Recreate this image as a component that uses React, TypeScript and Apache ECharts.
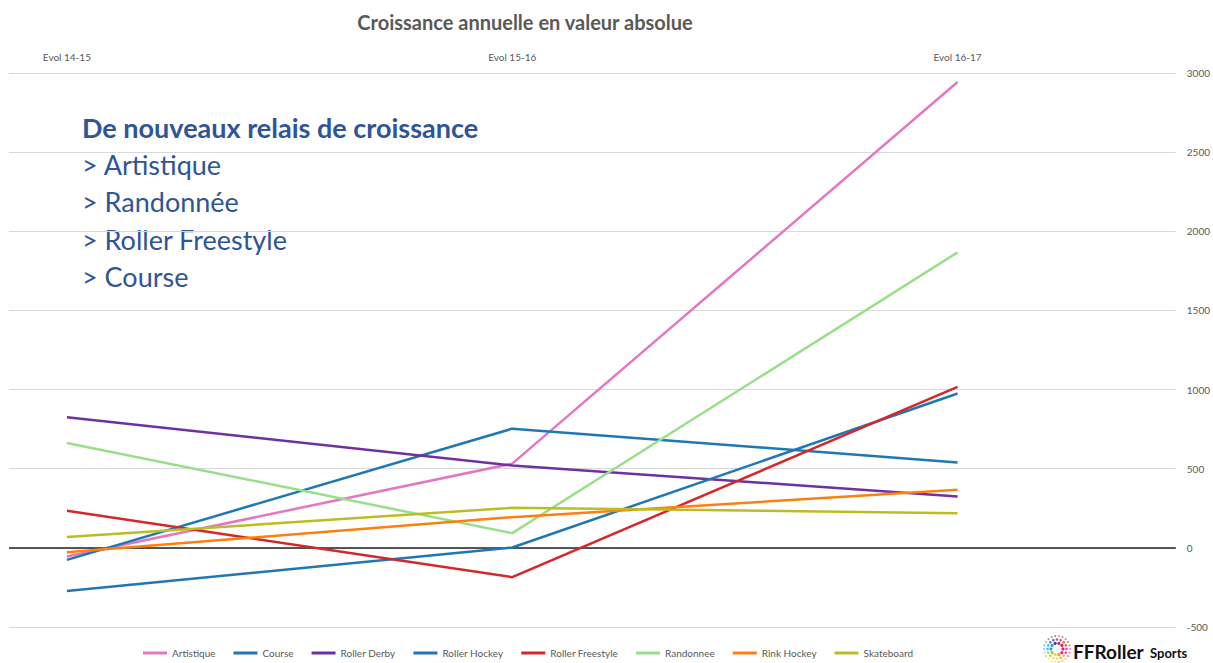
import React, { useEffect, useRef } from "react";
import * as echarts from "echarts";

const categories = ["Evol 14-15", "Evol 15-16", "Evol 16-17"];
const seriesNames = [
  "Artistique",
  "Course",
  "Roller Derby",
  "Roller Hockey",
  "Roller Freestyle",
  "Randonnee",
  "Rink Hockey",
  "Skateboard",
];
const artistique = [-55, 532, 2943];
const course = [-76, 753, 540];
const rollerDerby = [825, 521, 325];
const rollerHockey = [-272, 2, 975];
const rollerFreestyle = [234, -185, 1017];
const randonnee = [663, 93, 1867];
const rinkHockey = [-27, 194, 367];
const skateboard = [68, 253, 219];
const seriesValues = [artistique, course, rollerDerby, rollerHockey, rollerFreestyle, randonnee, rinkHockey, skateboard];
const seriesColors = ["#e377c2", "#1f77b4", "#7030a0", "#1f77b4", "#d62728", "#98df8a", "#ff7f0e", "#bcbd22"];
const yTicks = [-500, 0, 500, 1000, 1500, 2000, 2500, 3000];
const titleText = "Croissance annuelle en valeur absolue";
const noteLines = ["> Artistique", "> Randonnée", "> Roller Freestyle ", "> Course"];
const noteTitle = "De nouveaux relais de croissance ";

const FONT = "Lato, 'Liberation Sans', sans-serif";

export default function App() {
  const ref = useRef<HTMLDivElement>(null);
  useEffect(() => {
    document.body.style.margin = "0";
    if (!ref.current) return;
    const chart = echarts.init(ref.current, null, { renderer: "svg" });

    const series: any[] = seriesNames.map((name, si) => ({
      name,
      type: "line",
      data: seriesValues[si].map((v, i) => [i, v]),
      showSymbol: false,
      symbol: "none",
      lineStyle: { width: 2.5, color: seriesColors[si] },
      itemStyle: { color: seriesColors[si] },
      z: 3 + si,
    }));
    series[0].markLine = {
      silent: true,
      symbol: "none",
      label: { show: false },
      lineStyle: { color: "#222", width: 1.5, type: "solid" },
      data: [{ yAxis: 0 }],
      z: 2,
    };

    // logo dots
    const dotColors = ["#e6007e", "#f39200", "#ffd500", "#95c11f", "#009fe3", "#312783", "#a3195b", "#e30613"];
    const dots: any[] = [];
    for (let r = 0; r < 3; r++) {
      const rad = 6 + r * 3.5;
      const n = 10 + r * 6;
      for (let k = 0; k < n; k++) {
        const a = (k / n) * Math.PI * 2;
        dots.push({
          type: "circle",
          shape: { cx: 1057 + Math.cos(a) * rad, cy: 649 + Math.sin(a) * rad, r: 1.6 - r * 0.3 },
          style: { fill: dotColors[Math.floor((k / n) * dotColors.length)], opacity: 0.9 - r * 0.2 },
        });
      }
    }

    chart.setOption({
      animation: false,
      backgroundColor: "#ffffff",
      textStyle: { fontFamily: FONT },
      grid: { left: 9, right: 36, top: 73, bottom: 36, containLabel: false },
      legend: {
        data: seriesNames,
        left: 138,
        top: 645,
        padding: [3, 5, 3, 5],
        icon: "rect",
        itemWidth: 24,
        itemHeight: 3,
        itemGap: 18,
        textStyle: { fontSize: 10, color: "#595959", fontFamily: FONT },
      },
      xAxis: {
        type: "value",
        position: "top",
        min: -0.13,
        max: 2.49,
        axisLine: { show: false },
        axisTick: { show: false },
        splitLine: { show: false },
        axisLabel: {
          customValues: [0, 1, 2],
          formatter: (v: number) => categories[Math.round(v)] ?? "",
          fontSize: 10,
          color: "#595959",
          margin: 11,
        },
      },
      yAxis: {
        type: "value",
        position: "right",
        min: -500,
        max: 3000,
        interval: 500,
        axisLine: { show: false },
        axisTick: { show: false },
        splitLine: { lineStyle: { color: "#d9d9d9", width: 1 } },
        axisLabel: {
          fontSize: 10,
          color: "#595959",
          margin: 11,
          formatter: (v: number) => (yTicks.includes(v) ? String(v) : ""),
        },
      },
      series,
      graphic: [
        {
          type: "text",
          x: 525,
          y: 22,
          style: {
            text: titleText,
            fill: "#595959",
            font: `bold 20px ${FONT}`,
            textAlign: "center",
            textVerticalAlign: "middle",
          },
        },
        {
          type: "text",
          x: 82,
          y: 127,
          style: {
            text: noteTitle,
            fill: "#2f5597",
            font: `bold 27px ${FONT}`,
            textVerticalAlign: "middle",
          },
        },
        ...noteLines.map((t, i) => ({
          type: "text",
          x: 82,
          y: 164 + i * 37.5,
          style: {
            text: t,
            fill: "#2f5597",
            font: `27px ${FONT}`,
            textVerticalAlign: "middle",
          },
        })),
        ...dots,
        {
          type: "text",
          x: 1073,
          y: 651,
          style: { text: "FFRoller", fill: "#111", font: `bold 19px ${FONT}`, textVerticalAlign: "middle" },
        },
        {
          type: "text",
          x: 1150,
          y: 653,
          style: { text: "Sports", fill: "#111", font: `bold 13px ${FONT}`, textVerticalAlign: "middle" },
        },
      ],
    });
    return () => chart.dispose();
  }, []);
  return <div ref={ref} style={{ width: 1213, height: 663 }} />;
}
